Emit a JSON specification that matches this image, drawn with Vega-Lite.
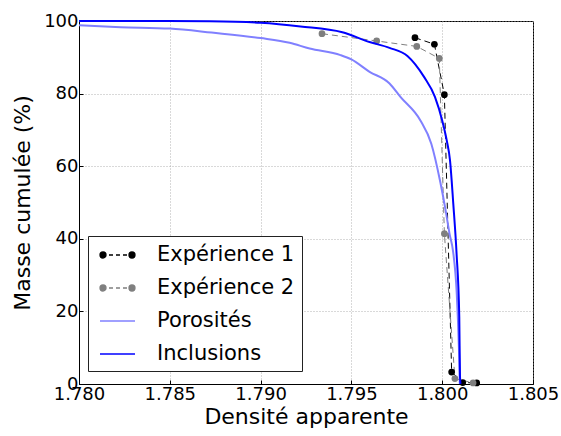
{
  "$schema": "https://vega.github.io/schema/vega-lite/v6.json",
  "width": 454,
  "height": 363,
  "autosize": "none",
  "padding": {"left": 79, "top": 21, "right": 28, "bottom": 52},
  "background": "white",
  "config": {
    "font": "DejaVu Sans",
    "view": {"stroke": "black", "strokeWidth": 1},
    "axis": {
      "domainColor": "black",
      "tickColor": "black",
      "labelColor": "black",
      "titleColor": "black",
      "labelFont": "DejaVu Sans",
      "titleFont": "DejaVu Sans",
      "labelFontSize": 18,
      "titleFontSize": 22,
      "titleFontWeight": "normal",
      "gridColor": "#a0a0a0",
      "gridDash": [1, 2],
      "gridWidth": 0.8,
      "tickSize": -4,
      "labelPadding": 5
    }
  },
  "data": {
    "values": [
      {"series": "Expérience 1", "d": 1.7985, "m": 95.4},
      {"series": "Expérience 1", "d": 1.79957, "m": 93.6},
      {"series": "Expérience 1", "d": 1.80012, "m": 79.7},
      {"series": "Expérience 1", "d": 1.80052, "m": 3.3},
      {"series": "Expérience 1", "d": 1.80113, "m": 0.4},
      {"series": "Expérience 1", "d": 1.8019, "m": 0.3},
      {"series": "Expérience 2", "d": 1.79338, "m": 96.5},
      {"series": "Expérience 2", "d": 1.79639, "m": 94.5},
      {"series": "Expérience 2", "d": 1.7986, "m": 93.0},
      {"series": "Expérience 2", "d": 1.79984, "m": 89.7},
      {"series": "Expérience 2", "d": 1.80012, "m": 41.4},
      {"series": "Expérience 2", "d": 1.8007, "m": 1.5},
      {"series": "Expérience 2", "d": 1.8017, "m": 0.3},
      {"series": "Porosités", "d": 1.78, "m": 98.8},
      {"series": "Porosités", "d": 1.7823, "m": 98.3},
      {"series": "Porosités", "d": 1.785, "m": 97.9},
      {"series": "Porosités", "d": 1.7873, "m": 96.8},
      {"series": "Porosités", "d": 1.79, "m": 95.3},
      {"series": "Porosités", "d": 1.7916, "m": 94.0},
      {"series": "Porosités", "d": 1.7927, "m": 92.4},
      {"series": "Porosités", "d": 1.7944, "m": 90.6},
      {"series": "Porosités", "d": 1.795, "m": 89.4},
      {"series": "Porosités", "d": 1.796, "m": 86.0},
      {"series": "Porosités", "d": 1.7971, "m": 82.8},
      {"series": "Porosités", "d": 1.7977, "m": 79.1},
      {"series": "Porosités", "d": 1.7988, "m": 72.6},
      {"series": "Porosités", "d": 1.7994, "m": 66.2},
      {"series": "Porosités", "d": 1.7999, "m": 55.5},
      {"series": "Porosités", "d": 1.8002, "m": 47.5},
      {"series": "Porosités", "d": 1.8004, "m": 41.5},
      {"series": "Porosités", "d": 1.8006, "m": 36.5},
      {"series": "Porosités", "d": 1.8008, "m": 25},
      {"series": "Porosités", "d": 1.80092, "m": 10},
      {"series": "Porosités", "d": 1.80097, "m": 0},
      {"series": "Inclusions", "d": 1.78, "m": 100},
      {"series": "Inclusions", "d": 1.784, "m": 100},
      {"series": "Inclusions", "d": 1.7872, "m": 99.9},
      {"series": "Inclusions", "d": 1.79, "m": 99.5},
      {"series": "Inclusions", "d": 1.7922, "m": 98.5},
      {"series": "Inclusions", "d": 1.7945, "m": 96.9},
      {"series": "Inclusions", "d": 1.796, "m": 94.2},
      {"series": "Inclusions", "d": 1.7971, "m": 92.6},
      {"series": "Inclusions", "d": 1.7981, "m": 90.3},
      {"series": "Inclusions", "d": 1.799, "m": 84.6},
      {"series": "Inclusions", "d": 1.7996, "m": 79.1},
      {"series": "Inclusions", "d": 1.8, "m": 72.6},
      {"series": "Inclusions", "d": 1.80025, "m": 67.1},
      {"series": "Inclusions", "d": 1.80043, "m": 61.6},
      {"series": "Inclusions", "d": 1.80061, "m": 49.7},
      {"series": "Inclusions", "d": 1.80079, "m": 36},
      {"series": "Inclusions", "d": 1.80094, "m": 18.5},
      {"series": "Inclusions", "d": 1.80098, "m": 2},
      {"series": "Inclusions", "d": 1.80101, "m": 0}
    ]
  },
  "encoding": {
    "x": {
      "field": "d", "type": "quantitative",
      "scale": {"domain": [1.78, 1.805], "nice": false, "zero": false},
      "axis": {"title": "Densité apparente", "values": [1.78, 1.785, 1.79, 1.795, 1.8, 1.805], "format": ".3f", "labelFlush": false, "titlePadding": 3}
    },
    "y": {
      "field": "m", "type": "quantitative",
      "scale": {"domain": [0, 100], "nice": false},
      "axis": {"title": "Masse cumulée (%)", "values": [0, 20, 40, 60, 80, 100], "titlePadding": 9}
    },
    "color": {
      "field": "series", "type": "nominal",
      "scale": {"domain": ["Expérience 1", "Expérience 2", "Porosités", "Inclusions"], "range": ["#000000", "#7f7f7f", "#8080ff", "#0000ff"]},
      "legend": {
        "title": null,
        "orient": "none",
        "legendX": 9,
        "legendY": 215,
        "strokeColor": "#222222",
        "fillColor": "white",
        "padding": 7,
        "cornerRadius": 0,
        "symbolSize": 515,
        "symbolStrokeWidth": 1.3,
        "labelFontSize": 21,
        "labelFont": "DejaVu Sans",
        "labelColor": "black",
        "labelOffset": 38,
        "rowPadding": 11,
        "encode": {
          "symbols": {
            "update": {
              "shape": [
                {"test": "indexof(datum.value, 'Exp') === 0", "value": "M-0.616,0A0.264,0.264,0,1,0,-0.088,0A0.264,0.264,0,1,0,-0.616,0Z M0.176,0L0.529,0 M0.793,0L1.145,0 M1.41,0L1.762,0 M1.939,0A0.264,0.264,0,1,0,2.467,0A0.264,0.264,0,1,0,1.939,0Z"},
                {"value": "M-0.617,0L2.467,0"}
              ],
              "stroke": {"scale": "color", "field": "value"},
              "fill": {"scale": "color", "field": "value"},
              "strokeWidth": {"value": 1.3},
              "opacity": {"value": 1}
            }
          }
        }
      }
    }
  },
  "layer": [
    {
      "transform": [{"filter": "indexof(datum.series, 'Exp') === 0"}],
      "mark": {"type": "line", "strokeWidth": 1, "strokeDash": [6, 4]},
      "encoding": {"detail": {"field": "series"}}
    },
    {
      "transform": [{"filter": "indexof(datum.series, 'Exp') === 0"}],
      "mark": {"type": "point", "filled": true, "size": 45, "opacity": 1, "shape": "circle"}
    },
    {
      "transform": [{"filter": "indexof(datum.series, 'Exp') !== 0"}],
      "mark": {"type": "line", "strokeWidth": 2, "interpolate": "monotone"},
      "encoding": {"detail": {"field": "series"}}
    }
  ]
}
